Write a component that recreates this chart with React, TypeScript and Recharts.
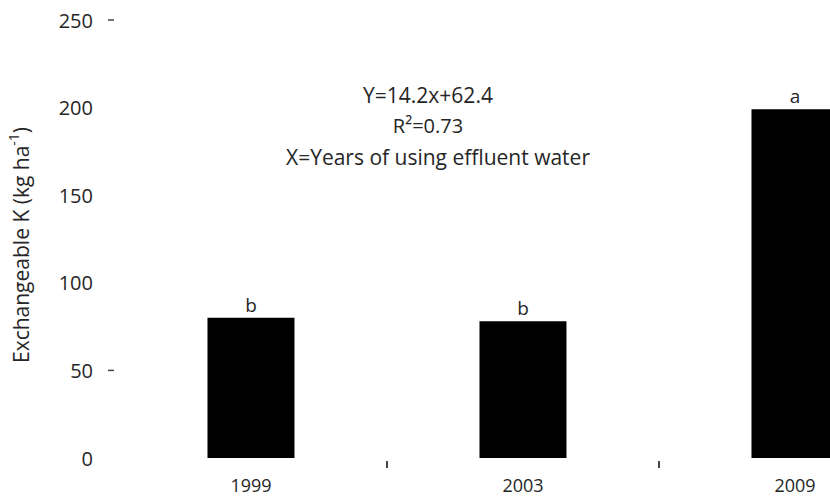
import React from "react"
import { BarChart, Bar, XAxis, YAxis, LabelList, Label, Customized } from "recharts"

const years = ["1999", "2003", "2009"]
const potassium = [80, 78, 199]
const letters = ["b", "b", "a"]
const yTicks = [0, 50, 100, 150, 200, 250]
const dashedTicks = [50, 250]
const equationLines = ["Y=14.2x+62.4", "R²=0.73", "X=Years of using effluent water"]

const data = years.map((year, i) => ({
  year,
  value: potassium[i],
  sig: letters[i],
}))

const FONT = "'Open Sans', sans-serif"
const TEXT = "#262626"

function YTick(props: any) {
  const { y, payload } = props
  const v = payload.value
  return (
    <g>
      <text x={93} y={y} textAnchor="end" dominantBaseline="central" fontSize={20} fill={TEXT} fontFamily={FONT}>
        {v}
      </text>
      {dashedTicks.includes(v) && <line x1={108} x2={114} y1={y} y2={y} stroke="#444" strokeWidth={1.5} />}
    </g>
  )
}

// category label plus the small tick on the boundary to its right (none after the last one)
function XTick(props: any) {
  const { x, y, payload, index, visibleTicksCount, width } = props
  let half = payload && typeof payload.offset === "number" && payload.offset > 0 ? payload.offset : 0
  if (!half && width && visibleTicksCount) half = width / visibleTicksCount / 2
  const bx = x + half
  return (
    <g>
      {index < visibleTicksCount - 1 && half > 0 && (
        <line x1={bx} x2={bx} y1={y + 1} y2={y + 8} stroke="#444" strokeWidth={2} />
      )}
      <text x={x} y={485} textAnchor="middle" dominantBaseline="central" fontSize={18} fill={TEXT} fontFamily={FONT}>
        {payload.value}
      </text>
    </g>
  )
}

function YTitle() {
  const cx = 21
  const cy = 245
  return (
    <text
      x={cx}
      y={cy}
      transform={`rotate(-90 ${cx} ${cy})`}
      textAnchor="middle"
      dominantBaseline="central"
      fontSize={21}
      fill={TEXT}
      fontFamily={FONT}
    >
      Exchangeable K (kg ha
      <tspan fontSize={14} dy={-8}>-1</tspan>
      <tspan dy={8}>)</tspan>
    </text>
  )
}

function Equation() {
  const xs = [428, 428, 438]
  const ys = [95, 125, 157]
  return (
    <g>
      {equationLines.map((line, i) => (
        <text
          key={line}
          x={xs[i]}
          y={ys[i]}
          textAnchor="middle"
          dominantBaseline="central"
          fontSize={i === 1 ? 20 : 21}
          fill={TEXT}
          fontFamily={FONT}
        >
          {line}
        </text>
      ))}
    </g>
  )
}

export default function App() {
  return (
    <div style={{ position: "absolute", left: 0, top: 0, width: 830, height: 498, overflow: "hidden", background: "#fff" }}>
      <BarChart width={940} height={498} data={data} margin={{ top: 20, right: 9, left: 0, bottom: 0 }} barCategoryGap="34%">
        <XAxis dataKey="year" axisLine={false} tickLine={false} tickSize={0} height={40} tick={<XTick />} interval={0} />
        <YAxis
          domain={[0, 250]}
          ticks={yTicks}
          width={115}
          axisLine={false}
          tickLine={false}
          tick={<YTick />}
          interval={0}
        >
          <Label content={<YTitle />} />
        </YAxis>
        <Bar dataKey="value" fill="#000" isAnimationActive={false}>
          <LabelList dataKey="sig" position="top" offset={6} fontSize={19} fill={TEXT} fontFamily={FONT} />
        </Bar>
        <Customized component={Equation} />
      </BarChart>
    </div>
  )
}
